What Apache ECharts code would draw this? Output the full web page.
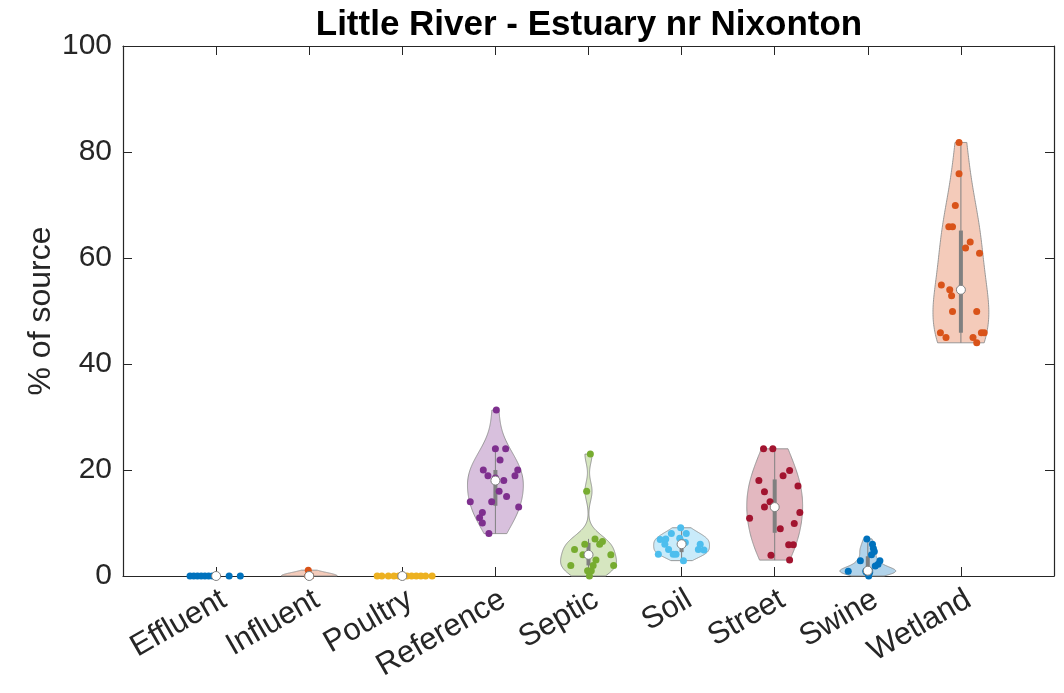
<!DOCTYPE html>
<html>
<head>
<meta charset="utf-8">
<script src="https://cdn.jsdelivr.net/npm/echarts@6/dist/echarts.min.js"></script>
<style>
  html, body { margin: 0; padding: 0; background: #ffffff; }
  #chart { width: 1064px; height: 693px; }
</style>
</head>
<body>
<div id="chart"></div>
<script>
// Source categories along the x axis
const categories = ['Effluent', 'Influent', 'Poultry', 'Reference', 'Septic', 'Soil', 'Street', 'Swine', 'Wetland'];

// Percent-of-source values per category, with the horizontal jitter of each dot (x-axis units)
const effluentValues = [0, 0, 0, 0, 0, 0, 0, 0, 0, 0];
const effluentJitter = [-0.28, -0.24, -0.20, -0.16, -0.12, -0.08, -0.04, 0.00, 0.14, 0.26];

const influentValues = [0, 0, 0, 0, 0, 0, 0, 0, 0, 0, 0, 0, 0, 0, 0, 0, 0, 0, 1.1];
const influentJitter = [0, 0.01, -0.01, 0.015, -0.015, 0, 0.01, -0.01, 0.005, -0.005, 0, 0.01, -0.01, 0.015, -0.015, 0, 0.005, -0.005, -0.01];

const poultryValues = [0, 0, 0, 0, 0, 0, 0, 0, 0, 0, 0, 0];
const poultryJitter = [-0.27, -0.22, -0.15, -0.09, -0.04, 0.00, 0.05, 0.10, 0.15, 0.20, 0.25, 0.32];

const referenceValues = [31.3, 24, 24, 21.9, 20, 20, 18.9, 18.9, 18.5, 18, 16, 15, 14, 14, 13, 12, 11, 10, 8];
const referenceJitter = [0.01, 0.00, 0.11, 0.05, -0.13, 0.24, -0.08, 0.21, 0.00, 0.09, 0.04, 0.12, -0.27, -0.04, 0.25, -0.14, -0.17, -0.14, -0.07];

const septicValues = [23, 16, 7, 6.5, 6, 6, 5, 4, 4, 3, 2, 2, 2, 1, 1, 0];
const septicJitter = [0.02, -0.02, 0.07, 0.15, 0.12, -0.04, -0.15, -0.06, 0.24, 0.08, -0.19, 0.27, 0.05, 0.03, -0.01, 0.01];

const soilValues = [9.1, 8, 8, 7.1, 7, 6.9, 6.3, 6, 6, 5, 5, 4.9, 4.1, 4.1, 4.1, 2.9];
const soilJitter = [-0.01, -0.11, 0.05, -0.02, -0.17, -0.23, 0.04, -0.18, 0.20, -0.14, 0.18, 0.24, -0.25, -0.09, -0.06, 0.02];

const streetValues = [24, 24, 19.9, 18.9, 18, 17, 15.9, 14, 13, 12, 10.9, 9.9, 8.9, 5.9, 5.9, 3.9, 3];
const streetJitter = [-0.12, -0.02, 0.16, 0.09, -0.17, 0.25, -0.11, -0.05, -0.11, 0.27, -0.27, 0.21, 0.06, 0.15, 0.20, -0.04, 0.16];

const swineValues = [7, 6, 5.2, 4.6, 4, 2.9, 2.9, 2.2, 1.9, 1, 1, 1, 1, 1, 0.9, 0.8, 0.7, 0.5, 0];
const swineJitter = [-0.01, 0.05, 0.06, 0.07, 0.04, -0.08, 0.13, 0.11, 0.08, 0.01, -0.01, 0.00, 0.02, -0.02, -0.21, -0.02, 0.02, 0.00, 0.01];

const wetlandValues = [81.8, 75.9, 69.9, 65.9, 65.9, 63, 61.9, 60.9, 54.9, 54, 52.9, 49.9, 49.9, 45.9, 45, 45, 45.9, 45.9, 44];
const wetlandJitter = [-0.02, -0.02, -0.06, -0.13, -0.09, 0.10, 0.05, 0.20, -0.21, -0.12, -0.10, -0.09, 0.17, -0.22, -0.16, 0.13, 0.22, 0.25, 0.17];

const yTicks = [0, 20, 40, 60, 80, 100];

const colors = ['#0072BD', '#D95319', '#EDB120', '#7E2F8E', '#77AC30', '#4DBEEE', '#A2142F', '#0072BD', '#D95319'];

const valueLists = [effluentValues, influentValues, poultryValues, referenceValues, septicValues, soilValues, streetValues, swineValues, wetlandValues];
const jitterLists = [effluentJitter, influentJitter, poultryJitter, referenceJitter, septicJitter, soilJitter, streetJitter, swineJitter, wetlandJitter];

const VIOLIN_HALF_WIDTH = 0.3;
const TEXT = '#262626';
const GREY = '#808080';
const FONT = '"Liberation Sans", Arial, Helvetica, sans-serif';

function median(sorted) {
  const n = sorted.length;
  return n % 2 ? sorted[(n - 1) / 2] : (sorted[n / 2 - 1] + sorted[n / 2]) / 2;
}

// Quantile with the (i - 0.5)/n plotting positions
function quantile(sorted, p) {
  const n = sorted.length;
  const pos = n * p + 0.5;
  if (pos <= 1) return sorted[0];
  if (pos >= n) return sorted[n - 1];
  const lo = Math.floor(pos);
  const f = pos - lo;
  return sorted[lo - 1] + f * (sorted[lo] - sorted[lo - 1]);
}

// Gaussian kernel density over the data range, normal-reference bandwidth
function kernelDensity(vals) {
  const n = vals.length;
  const sorted = [...vals].sort((a, b) => a - b);
  const lo = sorted[0], hi = sorted[n - 1];
  if (hi <= lo) return null;
  const med = median(sorted);
  const dev = sorted.map(v => Math.abs(v - med)).sort((a, b) => a - b);
  let sig = median(dev) / 0.6745;
  if (sig <= 0) sig = hi - lo;
  const h = sig > 0 ? sig * Math.pow(4 / (3 * n), 0.2) : 1;
  const out = [];
  const steps = 120;
  for (let i = 0; i <= steps; i++) {
    const y = lo + (hi - lo) * i / steps;
    let d = 0;
    for (const v of vals) {
      const z = (y - v) / h;
      d += Math.exp(-0.5 * z * z);
    }
    out.push([y, d / (n * h * Math.sqrt(2 * Math.PI))]);
  }
  const maxD = Math.max(...out.map(p => p[1]));
  return out.map(p => [p[0], VIOLIN_HALF_WIDTH * p[1] / maxD]);
}

function stats(vals) {
  const s = [...vals].sort((a, b) => a - b);
  const q1 = quantile(s, 0.25), q2 = quantile(s, 0.5), q3 = quantile(s, 0.75);
  const iqr = q3 - q1;
  let lowW = q1 - 1.5 * iqr;
  const above = s.filter(v => v > lowW);
  lowW = Math.max(lowW, above.length ? Math.min(...above) : lowW);
  let hiW = q3 + 1.5 * iqr;
  const below = s.filter(v => v < hiW);
  hiW = Math.min(hiW, below.length ? Math.max(...below) : hiW);
  return { q1, q2, q3, lowW, hiW };
}

function rgba(hex, a) {
  const r = parseInt(hex.slice(1, 3), 16), g = parseInt(hex.slice(3, 5), 16), b = parseInt(hex.slice(5, 7), 16);
  return `rgba(${r},${g},${b},${a})`;
}

const groups = categories.map((name, i) => ({
  name,
  pos: i + 1,
  values: valueLists[i],
  jitter: jitterLists[i],
  color: colors[i],
  shape: kernelDensity(valueLists[i]),
  st: stats(valueLists[i])
}));

const chart = echarts.init(document.getElementById('chart'), null, { renderer: 'canvas' });

const series = [];

// Violin outlines
series.push({
  type: 'custom',
  z: 1,
  clip: false,
  silent: true,
  data: groups.map(g => [g.pos, 0]),
  renderItem: (params, api) => {
    const g = groups[params.dataIndex];
    if (!g.shape) return null;
    const right = g.shape.map(p => api.coord([g.pos + p[1], p[0]]));
    const left = g.shape.slice().reverse().map(p => api.coord([g.pos - p[1], p[0]]));
    return {
      type: 'polygon',
      shape: { points: right.concat(left) },
      style: { fill: rgba(g.color, 0.3), stroke: '#8f8f8f', lineWidth: 0.9 }
    };
  }
});

// Whiskers and interquartile boxes
series.push({
  type: 'custom',
  z: 2,
  clip: false,
  silent: true,
  data: groups.map(g => [g.pos, 0]),
  renderItem: (params, api) => {
    const g = groups[params.dataIndex];
    const st = g.st;
    const w0 = api.coord([g.pos, st.lowW]);
    const w1 = api.coord([g.pos, st.hiW]);
    const b0 = api.coord([g.pos, st.q1]);
    const b1 = api.coord([g.pos, st.q3]);
    return {
      type: 'group',
      children: [
        { type: 'line', shape: { x1: w0[0], y1: w0[1], x2: w1[0], y2: w1[1] }, style: { stroke: GREY, lineWidth: 1 } },
        { type: 'rect', shape: { x: b0[0] - 2, y: b1[1], width: 4, height: b0[1] - b1[1] }, style: { fill: GREY } }
      ]
    };
  }
});

// Individual observations
groups.forEach(g => {
  series.push({
    type: 'scatter',
    name: g.name,
    z: 3,
    clip: false,
    symbol: 'circle',
    symbolSize: 7,
    itemStyle: { color: g.color, opacity: 1 },
    data: g.values.map((v, k) => [g.pos + g.jitter[k], v])
  });
});

// Medians
series.push({
  type: 'scatter',
  z: 4,
  clip: false,
  symbol: 'circle',
  symbolSize: 9,
  itemStyle: { color: '#ffffff', borderColor: GREY, borderWidth: 1, opacity: 1 },
  data: groups.map(g => [g.pos, g.st.q2])
});

const axisLine = { show: true, onZero: false, lineStyle: { color: TEXT, width: 1.2 } };
const tickStyle = { show: true, inside: true, length: 9, lineStyle: { color: TEXT, width: 1 } };

chart.setOption({
  animation: false,
  backgroundColor: '#ffffff',
  title: {
    text: 'Little River - Estuary nr Nixonton',
    left: 584,
    top: 3,
    textAlign: 'center',
    textStyle: { fontFamily: FONT, fontWeight: 'bold', fontSize: 35, color: '#000000' }
  },
  grid: { left: 123, top: 46, width: 931, height: 530, outerBoundsMode: 'none', containLabel: false },
  xAxis: [
    {
      type: 'value', min: 0, max: 10, interval: 1, position: 'bottom',
      axisLine, axisTick: tickStyle, splitLine: { show: false },
      axisLabel: {
        show: true, rotate: 30, margin: 8, align: 'right', verticalAlign: 'top',
        fontFamily: FONT, fontSize: 31, color: TEXT,
        formatter: v => categories[v - 1] || ''
      }
    },
    {
      type: 'value', min: 0, max: 10, interval: 1, position: 'top',
      axisLine, axisTick: tickStyle, splitLine: { show: false }, axisLabel: { show: false }
    }
  ],
  yAxis: [
    {
      type: 'value', min: 0, max: 100, interval: 20, position: 'left',
      axisLine, axisTick: tickStyle, splitLine: { show: false },
      axisLabel: {
        margin: 11, fontFamily: FONT, fontSize: 30, color: TEXT,
        formatter: v => (yTicks.includes(v) ? String(v) : '')
      },
      name: '% of source', nameLocation: 'middle', nameGap: 66, nameRotate: 90, nameMoveOverlap: false,
      nameTextStyle: { fontFamily: FONT, fontSize: 32, color: TEXT }
    },
    {
      type: 'value', min: 0, max: 100, interval: 20, position: 'right',
      axisLine, axisTick: tickStyle, splitLine: { show: false }, axisLabel: { show: false }
    }
  ],
  series
});
</script>
</body>
</html>
